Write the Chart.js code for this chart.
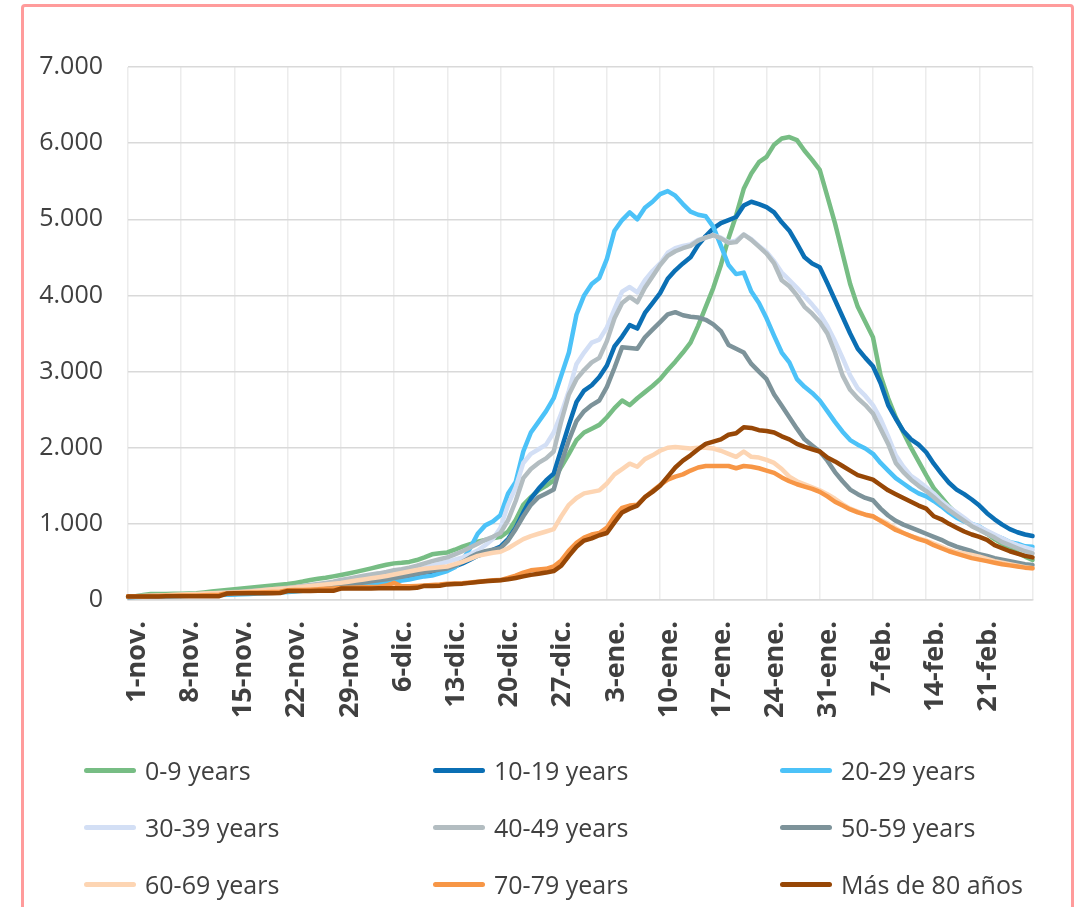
<!DOCTYPE html>
<html>
<head>
<meta charset="utf-8">
<script src="https://cdn.jsdelivr.net/npm/chart.js@4.4.0/dist/chart.umd.min.js"></script>
<style>
  body { margin:0; background:#fff; width:1086px; height:907px; overflow:hidden; position:relative; font-family:"Open Sans", sans-serif; }
  #frame { position:absolute; left:21px; top:4px; width:1047px; height:930px; border:3px solid #ff9b9b; border-radius:4px; }
  canvas { position:absolute; left:0; top:0; }
  .item { position:absolute; height:30px; display:flex; align-items:center; font-size:25px; color:#404040; white-space:nowrap; }
  .swatch { width:52px; height:5px; border-radius:3px; margin-right:9px; }
</style>
</head>
<body>
<div id="frame"></div>
<canvas id="chart" width="1086" height="907"></canvas>
<div id="legend"></div>
<script>
// dates 1-nov .. 28-feb
var months = ['nov.', 'dic.', 'ene.', 'feb.'];
var monthDays = [30, 31, 31, 28];
var dates = [];
months.forEach(function (m, k) {
  for (var d = 1; d <= monthDays[k]; d++) dates.push(d + '-' + m);
});

var names = ['0-9 years', '10-19 years', '20-29 years', '30-39 years', '40-49 years',
             '50-59 years', '60-69 years', '70-79 years', 'Más de 80 años'];
var colors = ['#77bd84', '#0b6fb4', '#4cc2f8', '#d3dff5', '#b3bdc1',
              '#7d939a', '#fdd5b3', '#f79646', '#974706'];

var age0_9 = [45,50,65,78,80,80,82,82,84,88,
  100,112,122,132,140,150,160,172,182,192,
  200,210,225,242,262,278,292,310,328,348,
  370,392,415,440,462,481,488,500,525,560,
  600,615,625,660,700,735,765,790,810,830,
  900,1050,1250,1350,1440,1500,1570,1750,1920,2100,
  2200,2250,2300,2400,2520,2620,2560,2650,2730,2810,
  2900,3020,3130,3250,3380,3600,3850,4100,4400,4750,
  5050,5400,5600,5750,5820,5980,6060,6080,6040,5900,
  5780,5650,5300,4950,4550,4150,3850,3650,3450,2950,
  2650,2400,2200,2000,1820,1640,1470,1350,1230,1130,
  1050,990,930,870,800,740,680,620,570,525];

var age10_19 = [40,42,45,48,50,52,55,58,60,62,
  65,68,72,76,80,85,90,95,100,108,
  115,122,130,140,150,160,170,180,190,200,
  210,222,235,248,255,262,275,290,305,330,
  360,385,410,440,480,530,580,620,660,700,
  800,950,1150,1330,1460,1570,1660,1980,2300,2600,
  2750,2820,2930,3080,3330,3460,3610,3565,3770,3900,
  4030,4220,4330,4420,4500,4660,4780,4880,4950,4990,
  5030,5180,5230,5200,5160,5090,4960,4850,4680,4500,
  4420,4370,4160,3940,3720,3500,3300,3180,3070,2850,
  2560,2380,2220,2110,2040,1940,1790,1660,1540,1450,
  1390,1320,1240,1140,1060,990,930,890,860,840];

var age20_29 = [40,40,42,44,46,48,50,52,55,58,
  60,62,65,68,72,76,80,85,90,95,
  100,106,112,120,128,136,145,155,165,175,
  185,195,205,215,228,240,255,270,290,310,
  320,350,380,430,520,680,870,980,1030,1115,
  1400,1550,1950,2200,2340,2480,2650,2950,3250,3750,
  4000,4150,4230,4480,4850,4990,5090,5000,5150,5230,
  5330,5370,5310,5200,5100,5060,5040,4900,4650,4400,
  4280,4300,4050,3900,3700,3470,3250,3120,2900,2800,
  2720,2620,2480,2340,2210,2100,2040,1990,1920,1800,
  1700,1600,1530,1460,1400,1360,1300,1230,1150,1080,
  1030,1000,965,900,850,810,760,740,705,700];

var age30_39 = [42,44,46,48,50,52,55,58,62,66,
  70,75,80,86,92,98,104,110,118,126,
  134,142,150,160,172,185,198,212,226,240,
  255,270,290,310,330,350,365,385,405,425,
  450,475,500,530,560,600,650,720,800,950,
  1250,1480,1800,1920,1980,2040,2200,2450,2750,3100,
  3250,3380,3420,3580,3820,4050,4110,4040,4200,4320,
  4420,4560,4620,4650,4670,4730,4760,4790,4760,4700,
  4720,4800,4740,4650,4570,4450,4300,4200,4100,3990,
  3880,3760,3600,3400,3180,2950,2780,2680,2560,2380,
  2150,1900,1750,1630,1560,1480,1400,1300,1220,1150,
  1080,1000,960,910,860,810,760,720,690,660];

var age40_49 = [45,48,52,56,60,62,64,66,70,75,
  80,86,92,98,104,110,118,126,134,142,
  150,160,172,184,196,210,225,240,262,280,
  300,318,335,350,368,390,405,425,450,480,
  510,535,560,600,640,690,740,790,830,880,
  1050,1300,1600,1720,1800,1860,1950,2350,2700,2900,
  3020,3120,3180,3400,3700,3900,3980,3910,4100,4250,
  4400,4520,4580,4620,4650,4720,4760,4790,4750,4690,
  4700,4800,4730,4640,4550,4420,4200,4120,4000,3850,
  3760,3650,3500,3250,2950,2760,2650,2560,2450,2250,
  2050,1800,1680,1580,1500,1430,1350,1260,1180,1110,
  1040,970,920,870,820,760,720,680,640,612];

var age50_59 = [40,42,45,48,50,52,55,58,60,64,
  68,72,76,80,85,90,95,100,106,112,
  118,125,132,140,150,160,170,180,190,200,
  215,230,245,260,272,290,305,325,345,365,
  385,400,415,450,500,560,610,640,660,680,
  780,930,1100,1250,1350,1400,1450,1800,2100,2350,
  2480,2560,2620,2800,3050,3320,3310,3300,3450,3550,
  3650,3750,3780,3740,3720,3710,3680,3620,3530,3350,
  3300,3250,3100,3000,2900,2700,2550,2400,2250,2110,
  2030,1950,1830,1680,1560,1450,1390,1340,1310,1200,
  1110,1040,990,950,910,870,830,790,740,700,
  670,640,600,580,550,530,510,490,470,459];

var age60_69 = [45,48,52,56,60,64,68,72,76,80,
  84,88,92,96,100,106,112,120,130,140,
  148,155,165,175,185,195,205,215,225,240,
  255,270,285,300,315,335,355,375,395,410,
  420,430,440,470,500,540,580,600,620,634,
  680,740,800,840,870,900,930,1100,1250,1340,
  1400,1420,1440,1530,1650,1720,1790,1750,1850,1900,
  1960,2000,2010,2000,1990,2000,2000,1990,1960,1920,
  1880,1950,1880,1870,1840,1800,1720,1620,1560,1520,
  1480,1440,1390,1330,1260,1200,1160,1120,1090,1050,
  1000,940,880,840,810,780,740,700,660,630,
  610,590,570,540,510,490,470,450,430,416];

var age70_79 = [48,50,50,52,52,55,55,58,60,60,
  62,65,70,90,92,95,98,100,102,105,
  110,128,130,132,135,140,148,152,158,162,
  165,168,172,175,190,225,180,180,185,192,
  198,205,215,218,220,230,240,250,258,262,
  290,320,360,390,400,410,440,520,650,750,
  820,860,880,950,1100,1210,1240,1250,1350,1430,
  1510,1580,1620,1650,1700,1740,1760,1760,1760,1760,
  1730,1760,1750,1730,1700,1670,1610,1560,1520,1490,
  1460,1420,1360,1290,1240,1190,1150,1120,1100,1040,
  980,920,880,840,800,770,720,680,640,610,
  580,550,530,510,490,470,455,440,425,416];

var age80 = [45,45,45,45,45,48,48,48,48,48,
  48,48,50,85,88,88,88,88,90,90,
  92,118,118,118,118,120,120,120,150,152,
  152,152,152,153,153,153,153,155,160,185,
  185,188,205,210,215,225,235,245,252,260,
  272,290,310,330,345,360,380,450,580,700,
  780,810,850,880,1020,1150,1200,1240,1350,1420,
  1500,1620,1740,1830,1900,1980,2050,2080,2110,2170,
  2190,2270,2260,2230,2220,2200,2150,2110,2050,2010,
  1980,1950,1870,1820,1760,1700,1640,1610,1580,1510,
  1440,1390,1340,1290,1240,1200,1100,1060,1000,950,
  900,860,830,790,720,680,640,610,580,560];

var series = [age0_9, age10_19, age20_29, age30_39, age40_49, age50_59, age60_69, age70_79, age80];

function thousands(v) {
  return String(v).replace(/\B(?=(\d{3})+(?!\d))/g, '.');
}

var ctx = document.getElementById('chart').getContext('2d');
var chart = new Chart(ctx, {
  type: 'line',
  data: {
    labels: dates,
    datasets: names.map(function (n, i) {
      return {
        label: n,
        data: series[i],
        borderColor: colors[i],
        backgroundColor: colors[i],
        borderWidth: 4.5,
        pointRadius: 0,
        tension: 0,
        fill: false,
        borderJoinStyle: 'round',
        borderCapStyle: 'round',
        order: names.length - 1 - i   // later series drawn on top, like excel
      };
    })
  },
  options: {
    responsive: false,
    animation: false,
    layout: { padding: { left: 20, right: 47, top: 67, bottom: 167 } },
    plugins: { legend: { display: false }, tooltip: { enabled: false } },
    scales: {
      x: {
        offset: false,
        grid: {
          color: function (c) { return c.index % 7 === 0 ? '#ececec' : 'rgba(0,0,0,0)'; },
          lineWidth: 1.5,
          drawTicks: false
        },
        border: { color: '#d9d9d9', width: 1.5 },
        ticks: {
          autoSkip: false,
          minRotation: 90,
          maxRotation: 90,
          padding: 21,
          labelOffset: 9,
          color: '#404040',
          font: { family: 'Open Sans', size: 27, weight: 'bold' },
          callback: function (v, i) {
            return (i % 7 === 0 && i < dates.length - 1) ? dates[i] : '';
          }
        },
        afterFit: function (s) { s.height = 140; }
      },
      y: {
        min: 0,
        max: 7000,
        grid: { color: '#d9d9d9', lineWidth: 1.5, drawTicks: false },
        border: { display: false },
        ticks: {
          stepSize: 1000,
          padding: 25,
          color: '#404040',
          font: { family: 'Open Sans', size: 25 },
          callback: function (v) { return thousands(v); }
        },
        afterFit: function (s) { s.width = 108; }
      }
    }
  }
});

// legend, 3 columns like the original
var colX = [84, 433, 780];
var rowY = [770, 827, 884];
var legend = document.getElementById('legend');
chart.data.datasets.forEach(function (ds, i) {
  var item = document.createElement('div');
  item.className = 'item';
  item.style.left = colX[i % 3] + 'px';
  item.style.top = (rowY[Math.floor(i / 3)] - 15) + 'px';
  var sw = document.createElement('span');
  sw.className = 'swatch';
  sw.style.background = ds.borderColor;
  var tx = document.createElement('span');
  tx.textContent = ds.label;
  item.appendChild(sw);
  item.appendChild(tx);
  legend.appendChild(item);
});
</script>
</body>
</html>
